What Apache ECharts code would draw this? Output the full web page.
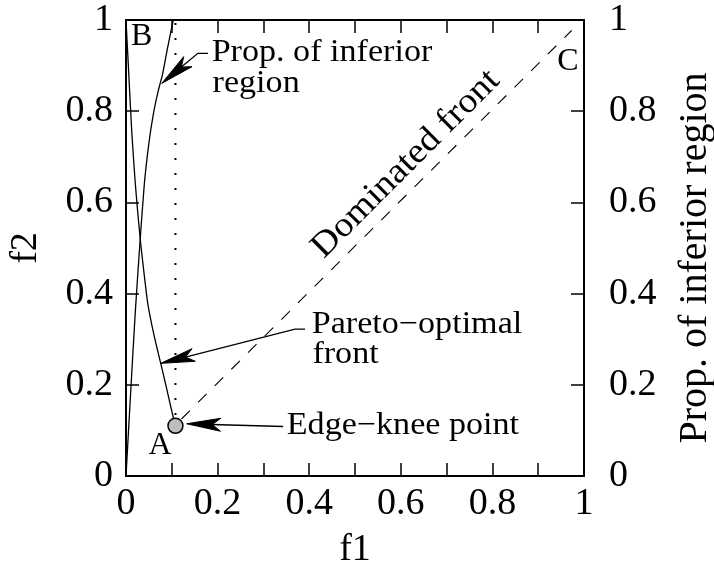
<!DOCTYPE html>
<html><head><meta charset="utf-8">
<script src="https://cdn.jsdelivr.net/npm/echarts@6/dist/echarts.min.js"></script>
<style>html,body{margin:0;padding:0;background:#fff}#c{width:714px;height:567px}</style>
</head><body><div id="c"></div>
<script>
// ---- data ----
const paretoF1 = [0, 0.006, 0.0124, 0.0197, 0.026, 0.032, 0.039, 0.047, 0.055, 0.065, 0.0758, 0.088, 0.1, 0.108];
const paretoF2 = [1, 0.883, 0.758, 0.649, 0.574, 0.511, 0.448, 0.382, 0.338, 0.292, 0.247, 0.195, 0.142, 0.11];
const propF1 = [0, 0.01, 0.02, 0.03, 0.04, 0.05, 0.06, 0.07, 0.08, 0.09, 0.1033];
const propF2 = [0, 0.18, 0.355, 0.505, 0.64, 0.73, 0.795, 0.843, 0.882, 0.935, 1.0];
const boundF1 = [0.108, 0.108];
const boundF2 = [0.134, 1.0];
const dominatedF1 = [0.121, 0.973];
const dominatedF2 = [0.125, 0.977];
const kneeF1 = [0.108];
const kneeF2 = [0.11];
const xTicks = [0, 0.2, 0.4, 0.6, 0.8, 1];
const yTicks = [0, 0.2, 0.4, 0.6, 0.8, 1];

// annotation anchors (data units)
const annotations = [
  {text: 'B', at: [0.0343, 0.964], align: 'center', size: 32, sx: 1.0},
  {text: 'A', at: [0.0742, 0.066], align: 'center', size: 32, sx: 1.0},
  {text: 'C', at: [0.965, 0.9095], align: 'center', size: 32, sx: 1.0},
  {text: 'Prop. of inferior', at: [0.187, 0.928], align: 'left', size: 31, sx: 1.1},
  {text: 'region', at: [0.189, 0.861], align: 'left', size: 31, sx: 1.1},
  {text: 'Pareto\u2212optimal', at: [0.4055, 0.3324], align: 'left', size: 31, sx: 1.1},
  {text: 'front', at: [0.407, 0.2667], align: 'left', size: 31, sx: 1.1},
  {text: 'Edge\u2212knee point', at: [0.351, 0.110], align: 'left', size: 31, sx: 1.1},
  {text: 'Dominated front', at: [0.611, 0.684], align: 'center', size: 35, sx: 1.08, rot: Math.PI / 4}
];
const arrows = [
  [[0.179, 0.927], [0.157, 0.927], [0.078, 0.861]],
  [[0.391, 0.322], [0.369, 0.322], [0.0758, 0.247]],
  [[0.343, 0.1086], [0.1325, 0.1145]]
];

const FONT = '"Liberation Serif"';
const pairs = (a, b) => a.map((v, i) => [v, b[i]]);
const fmt = v => {
  const r = Math.round(v * 10) / 10;
  return xTicks.some(t => Math.abs(t - r) < 1e-9) ? String(r) : '';
};
const axisLine = {show: true, onZero: false, lineStyle: {color: '#000', width: 2}};
const axisTick = {show: true, inside: true, length: 13, lineStyle: {color: '#000', width: 1.5}};
const lblStyle = {fontFamily: 'Liberation Serif', fontSize: 38, color: '#000'};

const chart = echarts.init(document.getElementById('c'), null, {renderer: 'canvas'});
chart.setOption({
  animation: false,
  backgroundColor: '#fff',
  textStyle: {fontFamily: 'Liberation Serif'},
  grid: {left: 126, right: 130, top: 20, bottom: 91, containLabel: false, outerBoundsMode: 'none'},
  xAxis: [
    {type: 'value', position: 'bottom', min: 0, max: 1, interval: 0.1,
     axisLine, axisTick, splitLine: {show: false},
     axisLabel: Object.assign({margin: 9, formatter: fmt, showMinLabel: true, showMaxLabel: true}, lblStyle),
     name: 'f1', nameLocation: 'middle', nameGap: 55, nameTextStyle: lblStyle},
    {type: 'value', position: 'top', min: 0, max: 1, interval: 0.1,
     axisLine, axisTick, splitLine: {show: false}, axisLabel: {show: false}}
  ],
  yAxis: [
    {type: 'value', position: 'left', min: 0, max: 1, interval: 0.2,
     axisLine, axisTick, splitLine: {show: false},
     axisLabel: Object.assign({margin: 13, formatter: v => String(Math.round(v * 10) / 10), showMinLabel: true, showMaxLabel: true}, lblStyle),
     name: 'f2', nameLocation: 'middle', nameRotate: 90, nameGap: 81, nameTextStyle: lblStyle},
    {type: 'value', position: 'right', min: 0, max: 1, interval: 0.2,
     axisLine, axisTick, splitLine: {show: false},
     axisLabel: Object.assign({margin: 25, formatter: v => String(Math.round(v * 10) / 10), showMinLabel: true, showMaxLabel: true}, lblStyle),
     name: 'Prop. of inferior region', nameLocation: 'middle', nameRotate: 90, nameGap: 91,
     nameTextStyle: {fontFamily: 'Liberation Serif', fontSize: 40, color: '#000', padding: [0, 20, 0, 0]}}
  ],
  series: [
    {type: 'line', name: 'Pareto-optimal front', data: pairs(paretoF1, paretoF2), smooth: 0.2,
     showSymbol: false, lineStyle: {color: '#000', width: 1.3}, silent: true},
    {type: 'line', name: 'Prop. of inferior region', yAxisIndex: 1, data: pairs(propF1, propF2), smooth: 0.2,
     showSymbol: false, lineStyle: {color: '#000', width: 1.3}, silent: true},
    {type: 'line', name: 'bound', data: pairs(boundF1, boundF2), showSymbol: false,
     lineStyle: {color: '#000', width: 2, type: [2, 13]}, silent: true},
    {type: 'line', name: 'Dominated front', data: pairs(dominatedF1, dominatedF2), showSymbol: false,
     lineStyle: {color: '#000', width: 1.1, type: [12, 11.5]}, silent: true},
    {type: 'scatter', name: 'Edge-knee point', data: pairs(kneeF1, kneeF2), symbol: 'circle', symbolSize: 15,
     itemStyle: {color: '#bdbdbd', borderColor: '#000', borderWidth: 1.5, opacity: 1}, silent: true, z: 5}
  ]
});

function buildGraphics() {
  const P = p => chart.convertToPixel({gridIndex: 0}, p);
  const els = [];
  annotations.forEach(a => {
    const [x, y] = P(a.at);
    els.push({type: 'text', x, y, rotation: a.rot || 0, scaleX: a.sx, scaleY: 1, z: 10,
      style: {text: a.text, font: a.size + 'px ' + FONT, fill: '#000',
              textAlign: a.align, align: a.align, textVerticalAlign: 'middle', verticalAlign: 'middle'}});
  });
  const L = 34, W = 6.5;
  arrows.forEach(path => {
    const pts = path.map(P);
    const tip = pts[pts.length - 1], prev = pts[pts.length - 2];
    let dx = tip[0] - prev[0], dy = tip[1] - prev[1];
    const len = Math.hypot(dx, dy); dx /= len; dy /= len;
    const nx = -dy, ny = dx;
    const back = [tip[0] - dx * L, tip[1] - dy * L];
    const notch = [tip[0] - dx * L * 0.75, tip[1] - dy * L * 0.75];
    const linePts = pts.slice(0, -1).concat([notch]);
    els.push({type: 'polyline', z: 10, shape: {points: linePts},
      style: {stroke: '#000', lineWidth: 1.3, fill: null}});
    els.push({type: 'polygon', z: 10, shape: {points: [tip, [back[0] + nx * W, back[1] + ny * W], notch, [back[0] - nx * W, back[1] - ny * W]]},
      style: {fill: '#000', stroke: '#000', lineWidth: 1}});
  });
  chart.setOption({graphic: {elements: els}});
}
buildGraphics();
</script>
</body></html>
